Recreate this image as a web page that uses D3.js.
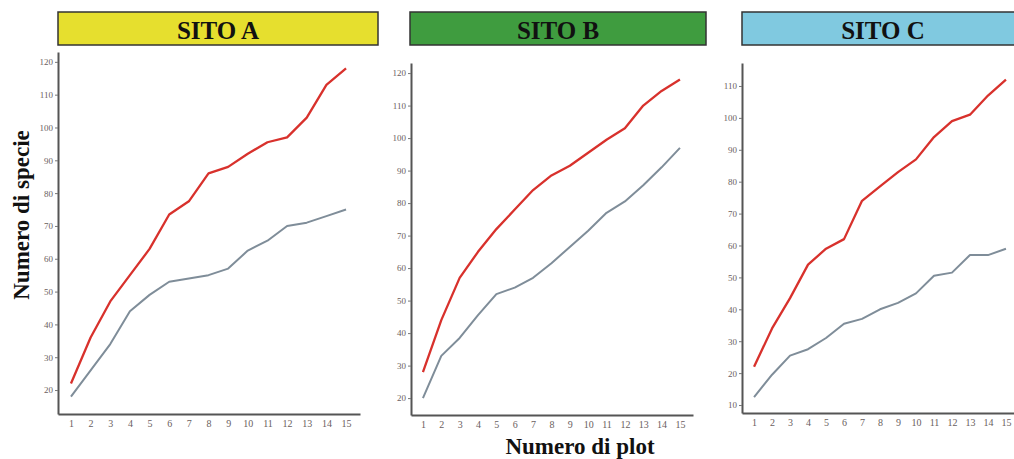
<!DOCTYPE html>
<html>
<head>
<meta charset="utf-8">
<script src="https://cdn.jsdelivr.net/npm/d3@7"></script>
<style>
  body { margin: 0; background: #fff; }
  svg { display: block; }
</style>
</head>
<body>
<div id="chart"></div>
<script>
// data: number of plots and cumulative species per site
const plots = [1, 2, 3, 4, 5, 6, 7, 8, 9, 10, 11, 12, 13, 14, 15];
const sites = ["SITO A", "SITO B", "SITO C"];

const redA = [22, 36, 47, 55, 63, 73.5, 77.5, 86, 88, 92, 95.5, 97, 103, 113, 118];
const greyA = [18, 26, 34, 44, 49, 53, 54, 55, 57, 62.5, 65.5, 70, 71, 73, 75];
const redB = [28, 44, 57, 65, 72, 78, 84, 88.5, 91.5, 95.5, 99.5, 103, 110, 114.5, 118];
const greyB = [20, 33, 38.5, 45.5, 52, 54, 57, 61.5, 66.5, 71.5, 77, 80.5, 85.5, 91, 97];
const redC = [22, 34, 43.5, 54, 59, 62, 74, 78.5, 83, 87, 94, 99, 101, 107, 112];
const greyC = [12.5, 19.5, 25.5, 27.5, 31, 35.5, 37, 40, 42, 45, 50.5, 51.5, 57, 57, 59];

const ticksAB = [20, 30, 40, 50, 60, 70, 80, 90, 100, 110, 120];
const ticksC = [10, 20, 30, 40, 50, 60, 70, 80, 90, 100, 110];

// layout of each panel (pixels)
const panels = [
  { name: sites[0], red: redA, grey: greyA, ticks: ticksAB, fill: "#e6df2e",
    head: [58, 378], title: 218, x: [0.34, 15.71], xr: [58, 360], y: [12.7, 123], yr: [414, 52] },
  { name: sites[1], red: redB, grey: greyB, ticks: ticksAB, fill: "#3f9c3f",
    head: [410, 706], title: 558, x: [0.35, 15.71], xr: [411, 693], y: [14.8, 123.1], yr: [415, 63] },
  { name: sites[2], red: redC, grey: greyC, ticks: ticksC, fill: "#80c9e0",
    head: [742, 1030], title: 883, x: [0.33, 15.78], xr: [742, 1020], y: [7.5, 117.2], yr: [413, 63] }
];

const svg = d3.select("#chart").append("svg")
  .attr("width", 1014)
  .attr("height", 459);

panels.forEach((p) => {
  // header box
  svg.append("rect")
    .attr("x", p.head[0])
    .attr("y", 12)
    .attr("width", p.head[1] - p.head[0])
    .attr("height", 33)
    .attr("fill", p.fill)
    .attr("stroke", "#333")
    .attr("stroke-width", 1.5);
  svg.append("text")
    .attr("x", p.title)
    .attr("y", 39)
    .attr("text-anchor", "middle")
    .style("font-family", "Liberation Serif, serif")
    .style("font-weight", "bold")
    .style("font-size", "25px")
    .attr("fill", "#111")
    .text(p.name);

  const x = d3.scaleLinear().domain(p.x).range(p.xr);
  const y = d3.scaleLinear().domain(p.y).range(p.yr);

  // axes
  const gx = svg.append("g")
    .attr("transform", `translate(0,${p.yr[0]})`)
    .call(d3.axisBottom(x).tickValues(plots).tickFormat(d3.format("d")).tickSize(0).tickPadding(6));
  gx.attr("font-family", "Liberation Serif, serif").attr("font-size", 10);

  const gy = svg.append("g")
    .attr("transform", `translate(${p.xr[0]},0)`)
    .call(d3.axisLeft(y).tickValues(p.ticks).tickSize(3).tickSizeOuter(0).tickPadding(2));
  gy.attr("font-family", "Liberation Serif, serif").attr("font-size", 9);

  svg.selectAll(".domain").attr("stroke", "#555").attr("stroke-width", 2);
  svg.selectAll(".tick line").attr("stroke", "#777");
  svg.selectAll(".tick text").attr("fill", "#6a6060");

  const line = (vals) => d3.line()
    .x((d, i) => x(plots[i]))
    .y((d) => y(d))(vals);

  svg.append("path")
    .attr("d", line(p.grey))
    .attr("fill", "none")
    .attr("stroke", "#7f8d99")
    .attr("stroke-width", 2)
    .attr("stroke-linejoin", "round");
  svg.append("path")
    .attr("d", line(p.red))
    .attr("fill", "none")
    .attr("stroke", "#d8312c")
    .attr("stroke-width", 2.3)
    .attr("stroke-linejoin", "round");
});

// axis titles
svg.append("text")
  .attr("transform", "translate(29,215) rotate(-90)")
  .attr("text-anchor", "middle")
  .style("font-family", "Liberation Serif, serif")
  .style("font-weight", "bold")
  .style("font-size", "23px")
  .attr("fill", "#111")
  .text("Numero di specie");

svg.append("text")
  .attr("x", 580)
  .attr("y", 454)
  .attr("text-anchor", "middle")
  .style("font-family", "Liberation Serif, serif")
  .style("font-weight", "bold")
  .style("font-size", "23px")
  .attr("fill", "#111")
  .text("Numero di plot");
</script>
</body>
</html>
